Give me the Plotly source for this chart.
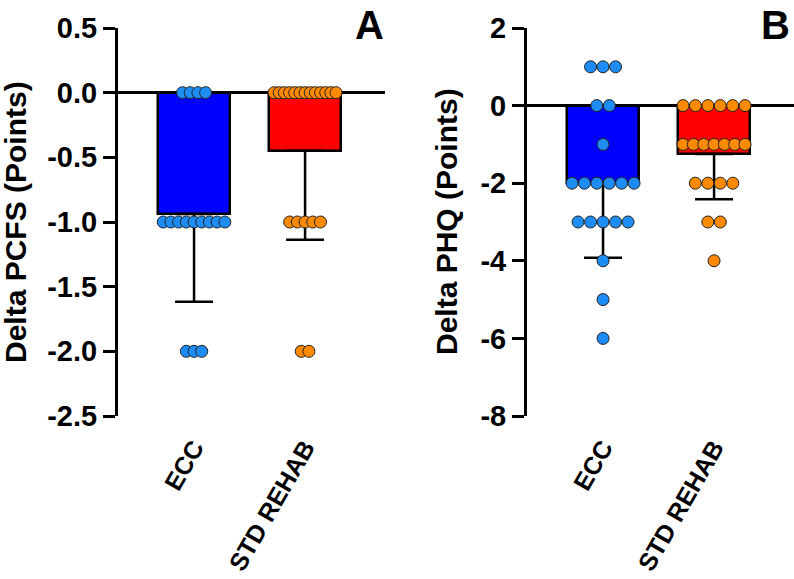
import numpy as np
import plotly.graph_objects as go
from plotly.subplots import make_subplots

groups = ["ECC", "STD REHAB"]

# Panel A: Delta PCFS (points)
pcfs_ecc = [0, 0, 0, 0, -1, -1, -1, -1, -1, -1, -1, -1, -1, -2, -2, -2]
pcfs_std = [0, 0, 0, 0, 0, 0, 0, 0, 0, 0, 0, 0, 0, -1, -1, -1, -1, -1, -2, -2]

# Panel B: Delta PHQ (points)
phq_ecc = [1, 1, 1, 0, 0, -1, -2, -2, -2, -2, -2, -2, -3, -3, -3, -3, -3, -4, -5, -6]
phq_std = [0, 0, 0, 0, 0, 0, -1, -1, -1, -1, -1, -1, -1, -2, -2, -2, -2, -3, -3, -4]

tick_a_vals = [0.5, 0.0, -0.5, -1.0, -1.5, -2.0, -2.5]
tick_a_text = ["0.5", "0.0", "-0.5", "-1.0", "-1.5", "-2.0", "-2.5"]
tick_b_vals = [2, 0, -2, -4, -6, -8]
tick_b_text = ["2", "0", "-2", "-4", "-6", "-8"]

titles = ["Delta PCFS (Points)", "Delta PHQ (Points)"]
letters = ["A", "B"]

BAR_COLORS = ["#0000FF", "#FF0000"]
PT_COLORS = ["#1E8CF5", "#FF8A00"]
PX_PER_UNIT = 111.0
FONT = "Liberation Sans, Arial, sans-serif"


def jitter(vals, spacing_px, max_w_px=62.0):
    vals = np.asarray(vals, dtype=float)
    offs = np.zeros_like(vals)
    for v in np.unique(vals):
        idx = np.where(vals == v)[0]
        n = len(idx)
        sp = spacing_px if n < 2 else min(spacing_px, max_w_px / (n - 1))
        for k, i in enumerate(idx):
            offs[i] = (k - (n - 1) / 2.0) * sp / PX_PER_UNIT
    return offs


fig = make_subplots(rows=1, cols=2, horizontal_spacing=0.21)

panels = [
    (1, [pcfs_ecc, pcfs_std], 7.7, [-2.5, 0.5], tick_a_vals, tick_a_text),
    (2, [phq_ecc, phq_std], 12.5, [-8, 2], tick_b_vals, tick_b_text),
]

for col, data, sp, yr, tv, tt in panels:
    means = [float(np.mean(d)) for d in data]
    sds = [float(np.std(d, ddof=1)) for d in data]
    fig.add_trace(go.Bar(
        x=[0, 1], y=means, width=0.65,
        marker=dict(color=BAR_COLORS, line=dict(color="black", width=2.5)),
        error_y=dict(type="data", symmetric=False, array=[0, 0], arrayminus=sds,
                     thickness=2.5, width=19, color="black"),
        showlegend=False, hoverinfo="skip"), row=1, col=col)
    for g, d in enumerate(data):
        xs = g + jitter(d, sp)
        fig.add_trace(go.Scatter(
            x=xs, y=d, mode="markers",
            marker=dict(size=12, color=PT_COLORS[g], line=dict(color="#222222", width=1)),
            showlegend=False, hoverinfo="skip"), row=1, col=col)
    fig.update_yaxes(range=yr, tickvals=tv, ticktext=tt, showline=True, linewidth=3,
                     linecolor="black", ticks="outside", ticklen=12, tickwidth=3,
                     tickcolor="black", showgrid=False, zeroline=True, zerolinewidth=3,
                     zerolinecolor="black", automargin=False,
                     tickfont=dict(family=FONT, size=29, color="black", weight="bold"),
                     row=1, col=col)
    fig.update_xaxes(range=[-0.685, 1.72], tickvals=[0, 1], ticktext=groups, tickangle=-60,
                     showline=False, showgrid=False, zeroline=False, ticks="outside",
                     ticklen=6, tickcolor="rgba(0,0,0,0)", automargin=False,
                     tickfont=dict(family=FONT, size=25, color="black", weight="bold"),
                     row=1, col=col)

W, H = 794, 579
ml, mr, mt, mb = 118, 0, 28, 163
pw = W - ml - mr
ph = H - mt - mb
fig.update_layout(
    width=W, height=H, margin=dict(l=ml, r=mr, t=mt, b=mb, autoexpand=False),
    plot_bgcolor="white", paper_bgcolor="white", bargap=0,
    xaxis=dict(domain=[0, 267 / pw]),
    xaxis2=dict(domain=[(527 - ml) / pw, 1]),
)
# y-axis titles (placed at their pixel centres)
for title, cx in zip(titles, (15, 446)):
    fig.add_annotation(text=title, xref="paper", yref="paper", x=(cx - ml) / pw, y=0.5,
                       textangle=-90, showarrow=False, xanchor="center", yanchor="middle",
                       font=dict(family=FONT, size=30, color="black", weight="bold"))
for letter, cx in zip(letters, (369, 775)):
    fig.add_annotation(text=letter, xref="paper", yref="paper", x=(cx - ml) / pw,
                       y=1.0 + (mt - 1) / ph,
                       showarrow=False, xanchor="center", yanchor="top",
                       font=dict(family=FONT, size=40, color="black", weight="bold"))

fig.write_html("out.html")
